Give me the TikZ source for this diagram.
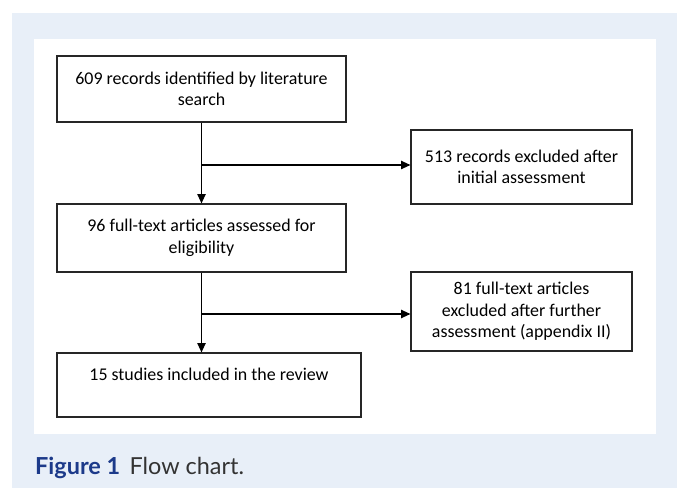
\documentclass[tikz,border=0pt]{standalone}
\usepackage{fontspec}
\setmainfont{Carlito}
\newfontfamily\capfont{Lato}
\usepackage{xcolor}
\usetikzlibrary{arrows.meta}

\definecolor{panelblue}{HTML}{E8EFF8}
\definecolor{figblue}{HTML}{1C3A8A}
\definecolor{capgray}{HTML}{333333}

\begin{document}
\begin{tikzpicture}[x=0.03cm, y=-0.03cm,
    flowbox/.style={draw=black!85, line width=0.9pt, align=center, inner sep=2pt,
        font=\fontsize{15.3}{18.3}\selectfont},
    flowline/.style={line width=1.3pt, -{Triangle[length=8pt,width=7pt]}}]
   			% page and panel
   			\useasboundingbox (0,0) rectangle (677,488);
   			\fill[panelblue] (12,13) rectangle (677,488);
   			\fill[white] (34,39) rectangle (656,434);
   			
   			\coordinate (split1) at (201.5,165);
   			\coordinate (split2) at (201.5,314);
   			
   			\node[flowbox, minimum width=8.67cm, minimum height=1.98cm] (records) at (201.5,89)
   				{609 records identified by literature\\search};
   			\node[flowbox, minimum width=6.63cm, minimum height=2.22cm] (excl1) at (521.5,167)
   				{513 records excluded after\\initial assessment};
   			\node[flowbox, minimum width=8.67cm, minimum height=2.04cm] (fulltext) at (201.5,238)
   				{96 full-text articles assessed for\\eligibility};
   			\node[flowbox, minimum width=6.63cm, minimum height=2.37cm] (excl2) at (521.5,311.5)
   				{81 full-text articles\\excluded after further\\assessment (appendix II)};
   			\node[flowbox, minimum width=9.12cm, minimum height=1.92cm] (included) at (209,385)
   				{15 studies included in the review\\\mbox{}};
   			
   			\draw[flowline] (records.south) -- (fulltext.north);
   			\draw[flowline] (split1) -- (split1 -| excl1.west);
   			\draw[flowline] (fulltext.south) -- (fulltext.south |- included.north);
   			\draw[flowline] (split2) -- (split2 -| excl2.west);
   			
   			% caption
   			\node[anchor=base west, inner sep=0pt, font=\capfont\fontsize{20}{22}\selectfont] (caption) at (35,474)
   				{\textcolor{figblue}{\bfseries Figure 1}\hspace{0.4em}\textcolor{capgray}{Flow chart.}};
   		\end{tikzpicture}
\end{document}
